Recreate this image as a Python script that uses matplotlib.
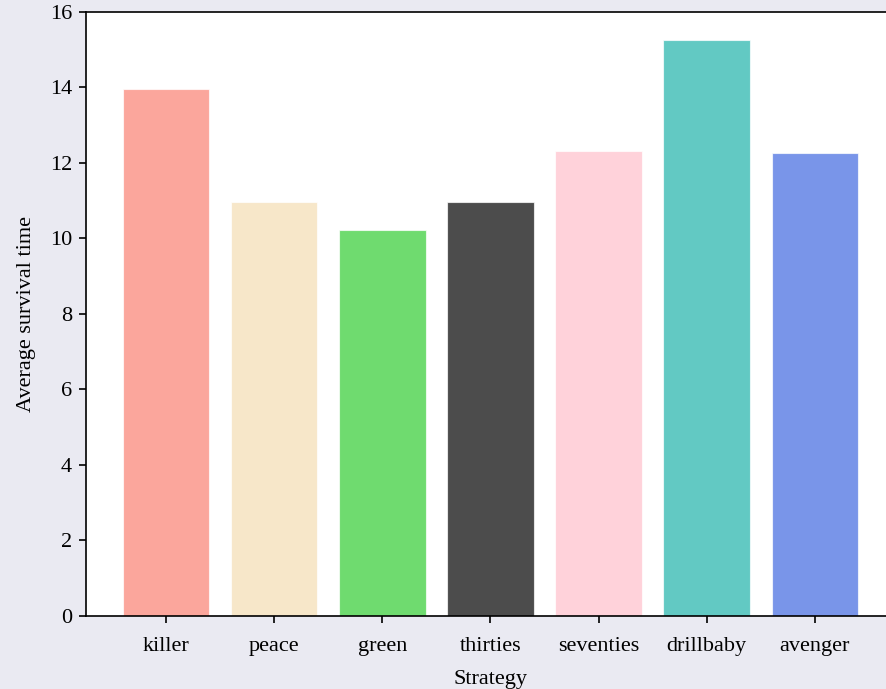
import numpy as np
import matplotlib
matplotlib.use("Agg")
import matplotlib.pyplot as plt

strategies = ["killer", "peace", "green", "thirties", "seventies", "drillbaby", "avenger"]
survival = [13.95, 10.96, 10.21, 10.96, 12.31, 15.25, 12.25]
bar_colors = ["salmon", "wheat", "limegreen", "black", "pink", "lightseagreen", "royalblue"]

plt.rcParams['font.family'] = ['Liberation Serif', 'DejaVu Serif']
plt.rcParams['font.size'] = 16

fig = plt.figure(figsize=(8.86, 6.89), dpi=100, facecolor="#eaeaf2")
ax = fig.add_axes([0.097, 0.106, 0.913, 0.877])
ax.set_facecolor("white")

x = np.arange(len(strategies))
ax.bar(x, survival, width=0.8, color=bar_colors, alpha=0.7, edgecolor="white", linewidth=0.8)
ax.set_xticks(x)
ax.set_xticklabels(strategies)
ax.set_ylim(0, 16)
ax.set_yticks(range(0, 17, 2))
ax.set_xlim(-0.74, 6.74)

for s in ax.spines.values():
    s.set_color("black")
    s.set_linewidth(1.2)
ax.tick_params(direction="out", length=5, width=1.2, colors="black")
ax.tick_params(axis="x", pad=10)
ax.tick_params(axis="y", pad=5)

ax.set_xlabel("Strategy", labelpad=10)
ax.set_ylabel("Average survival time", labelpad=10)

fig.savefig("out.png", dpi=100, facecolor=fig.get_facecolor())
